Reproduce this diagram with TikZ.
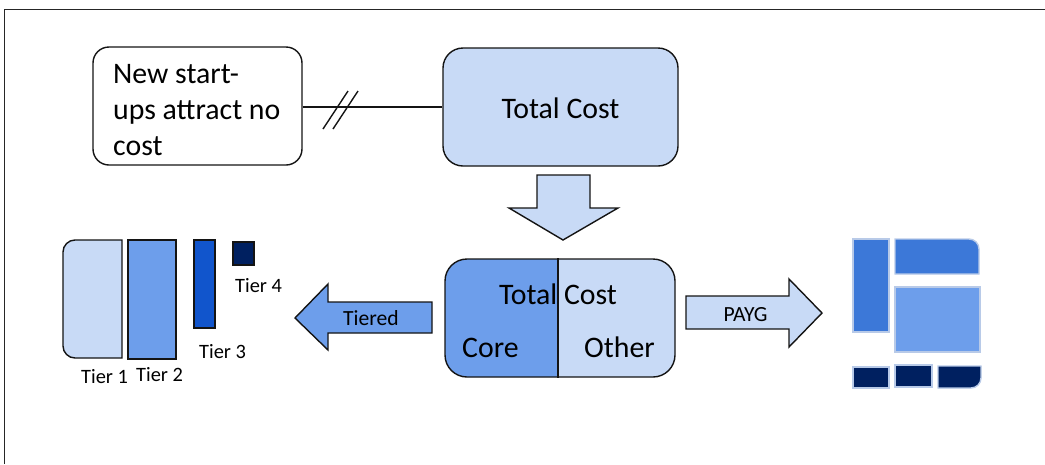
\documentclass[tikz,border=0pt]{standalone}
\usepackage{fontspec}
\setmainfont{Carlito}
\usetikzlibrary{calc}

\definecolor{paleblue}{RGB}{200,218,246}
\definecolor{midblue}{RGB}{109,158,235}
\definecolor{richblue}{RGB}{60,120,216}
\definecolor{strongblue}{RGB}{17,85,204}
\definecolor{navy}{RGB}{0,32,96}
\definecolor{tileedge}{RGB}{184,202,232}
\definecolor{inkline}{RGB}{20,20,20}

\tikzset{
  outline/.style={draw=inkline, line width=1.4pt},
  roundbox/.style={outline, inner sep=0pt, rounded corners=#1},
  tile/.style={draw=tileedge, line width=1.4pt},
  bigtext/.style={inner sep=0pt, font=\fontsize{29.8}{35}\selectfont},
  smalltext/.style={inner sep=0pt, font=\fontsize{21.6}{25}\selectfont},
  tiertext/.style={inner sep=0pt, font=\fontsize{20.4}{24}\selectfont},
}

\begin{document}
\begin{tikzpicture}[x=1pt, y=1pt]
\useasboundingbox (0,0) rectangle (1045,-464);

% page frame (top and left edges)
\draw[line width=1.6pt, color=black!85] (4.5,-464) -- (4.5,-9.5) -- (1045,-9.5);

% start-up note box
\node[roundbox=16pt, fill=white, minimum width=209pt, minimum height=118pt] (start) at (197.5,-106) {};
\node[bigtext, anchor=base west] (l1) at (113,-83) {New start-};
\node[bigtext, anchor=base west] (l2) at (113,-119) {ups attract no};
\node[bigtext, anchor=base west] (l3) at (113,-155) {cost};

% total cost box
\node[roundbox=20pt, fill=paleblue, minimum width=235pt, minimum height=118pt] (total) at (560.5,-107) {};
\node[bigtext, anchor=base] (totaltxt) at (560.5,-118) {Total Cost};

% broken connector between the two boxes
\draw[outline] (start.east |- 0,-107) -- (total.west |- 0,-107);
\coordinate (brk) at (340.5,-107);
\draw[outline] ($(brk)+(-17.5,-22)$) -- ++(25,38);
\draw[outline] ($(brk)+(-7.5,-22)$) -- ++(25,38);

% down arrow
\draw[outline, fill=paleblue, line join=miter]
  (537,-175) -- (590,-175) -- (590,-208) -- (618,-208) -- (563,-240)
  -- (509,-208) -- (537,-208) -- cycle;

% split total-cost box
\begin{scope}
  \clip (445,-250) rectangle (558,-390);
  \fill[midblue, rounded corners=22pt] (445,-259) rectangle (675,-377);
\end{scope}
\begin{scope}
  \clip (558,-250) rectangle (690,-390);
  \fill[paleblue, rounded corners=22pt] (445,-259) rectangle (675,-377);
\end{scope}
\node[roundbox=22pt, minimum width=230pt, minimum height=118pt] (split) at (560,-318) {};
\draw[outline] (split.north -| 558,0) -- (split.south -| 558,0);
\node[bigtext, anchor=base] (splittxt) at (558,-304) {Total Cost};
\node[bigtext, anchor=base west] (core) at (462,-357) {Core};
\node[bigtext, anchor=base west] (other) at (584,-357) {Other};

% tiered arrow (pointing left)
\draw[outline, fill=midblue, line join=miter]
  (432,-302) -- (328,-302) -- (328,-284) -- (295,-318) -- (328,-350)
  -- (328,-333) -- (432,-333) -- cycle;
\node[smalltext, anchor=base] (tiered) at (371,-325) {Tiered};

% PAYG arrow (pointing right)
\draw[outline, fill=paleblue, line join=miter]
  (686,-296) -- (789,-296) -- (789,-279) -- (822,-313) -- (789,-347)
  -- (789,-329) -- (686,-329) -- cycle;
\node[smalltext, anchor=base] (payg) at (745.5,-321) {PAYG};

% tier bars
\draw[outline, fill=paleblue]
  (122,-240) -- (75,-240) arc[start angle=90, end angle=180, radius=12pt]
  -- (63,-346) arc[start angle=180, end angle=270, radius=12pt]
  -- (122,-358) -- cycle;
\draw[outline, fill=midblue] (128,-240) rectangle (176,-359);
\draw[outline, fill=strongblue] (194,-240) rectangle (215,-328);
\draw[outline, fill=navy] (233,-242) rectangle (254,-265);
\node[tiertext, anchor=base west] (t4) at (235,-292) {Tier 4};
\node[tiertext, anchor=base west] (t3) at (199,-358) {Tier 3};
\node[tiertext, anchor=base west] (t1) at (81,-383) {Tier 1};
\node[tiertext, anchor=base west] (t2) at (136,-381) {Tier 2};

% pay-as-you-go tile mosaic
\draw[tile, fill=richblue] (853,-239) rectangle (889,-332);
\draw[tile, fill=richblue]
  (895,-239) -- (969,-239) arc[start angle=90, end angle=0, radius=10pt]
  -- (979,-274) -- (895,-274) -- cycle;
\draw[tile, fill=midblue] (895,-287) rectangle (980,-352);
\draw[tile, fill=navy] (853,-367) rectangle (889,-388);
\draw[tile, fill=navy] (895,-365) rectangle (932,-387);
\draw[tile, fill=navy]
  (938,-366) -- (981,-366) -- (981,-378) arc[start angle=0, end angle=-90, radius=10pt]
  -- (938,-388) -- cycle;
\end{tikzpicture}
\end{document}
